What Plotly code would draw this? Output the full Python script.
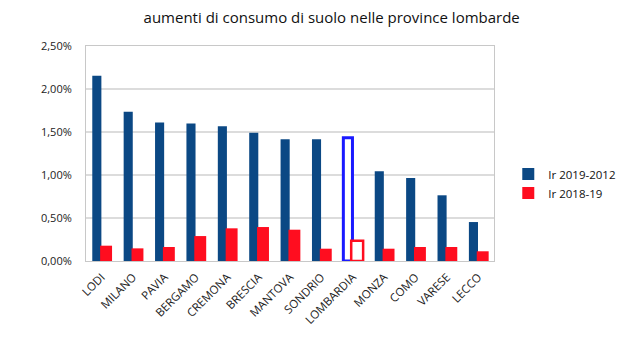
import plotly.graph_objects as go

categories = ["LODI", "MILANO", "PAVIA", "BERGAMO", "CREMONA", "BRESCIA", "MANTOVA",
              "SONDRIO", "LOMBARDIA", "MONZA", "COMO", "VARESE", "LECCO"]
ir_2019_2012 = [2.155, 1.736, 1.61, 1.60, 1.566, 1.49, 1.415, 1.415, 1.434, 1.043, 0.965, 0.764, 0.453]
ir_2018_19 = [0.178, 0.147, 0.163, 0.29, 0.38, 0.395, 0.364, 0.143, 0.236, 0.143, 0.163, 0.163, 0.113]

blue = "#0b4884"
red = "#ff0d1f"
hl = "LOMBARDIA"

b_fill = ["white" if c == hl else blue for c in categories]
b_line = ["#1a1aff" if c == hl else blue for c in categories]
b_lw = [3 if c == hl else 0 for c in categories]
r_fill = ["white" if c == hl else red for c in categories]
r_line = [red for c in categories]
r_lw = [2.5 if c == hl else 0 for c in categories]

fig = go.Figure()
fig.add_trace(go.Bar(
    x=categories, y=[v / 100 for v in ir_2019_2012], name="Ir 2019-2012",
    width=0.29, offset=-0.30,
    marker=dict(color=b_fill, line=dict(color=b_line, width=b_lw)),
))
fig.add_trace(go.Bar(
    x=categories, y=[v / 100 for v in ir_2018_19], name="Ir 2018-19",
    width=0.38, offset=-0.05,
    marker=dict(color=r_fill, line=dict(color=r_line, width=r_lw)),
))

fig.update_layout(
    width=633, height=348,
    margin=dict(l=86, r=114, t=46, b=87),
    barmode="overlay",
    separators=",.",
    paper_bgcolor="white", plot_bgcolor="white",
    font=dict(family="Open Sans", size=11, color="#222"),
    title=dict(text="aumenti di consumo di suolo nelle province lombarde",
               x=0.524, xanchor="center", y=0.948, yanchor="middle",
               font=dict(family="Open Sans", size=15, color="#111")),
    legend=dict(x=1.035, xanchor="left", y=0.36, yanchor="middle",
                font=dict(size=11.5, color="#111"), tracegroupgap=6,
                itemwidth=30, bgcolor="rgba(0,0,0,0)"),
    showlegend=True,
)
fig.update_xaxes(
    tickangle=-45, showline=True, linecolor="#c8c8c8", linewidth=1, mirror=True,
    showgrid=False, ticks="", tickfont=dict(size=11.5, color="#222"),
    ticklabelstandoff=4,
)
fig.update_yaxes(
    range=[0, 0.025], dtick=0.005, tickformat=".2%",
    showgrid=True, gridcolor="#dcdcdc", gridwidth=1.5,
    showline=True, linecolor="#c8c8c8", linewidth=1, mirror=True,
    ticks="outside", ticklen=11, tickcolor="rgba(0,0,0,0)",
    tickfont=dict(size=11, color="#222"), zeroline=False,
)

fig.write_html("out.html")
